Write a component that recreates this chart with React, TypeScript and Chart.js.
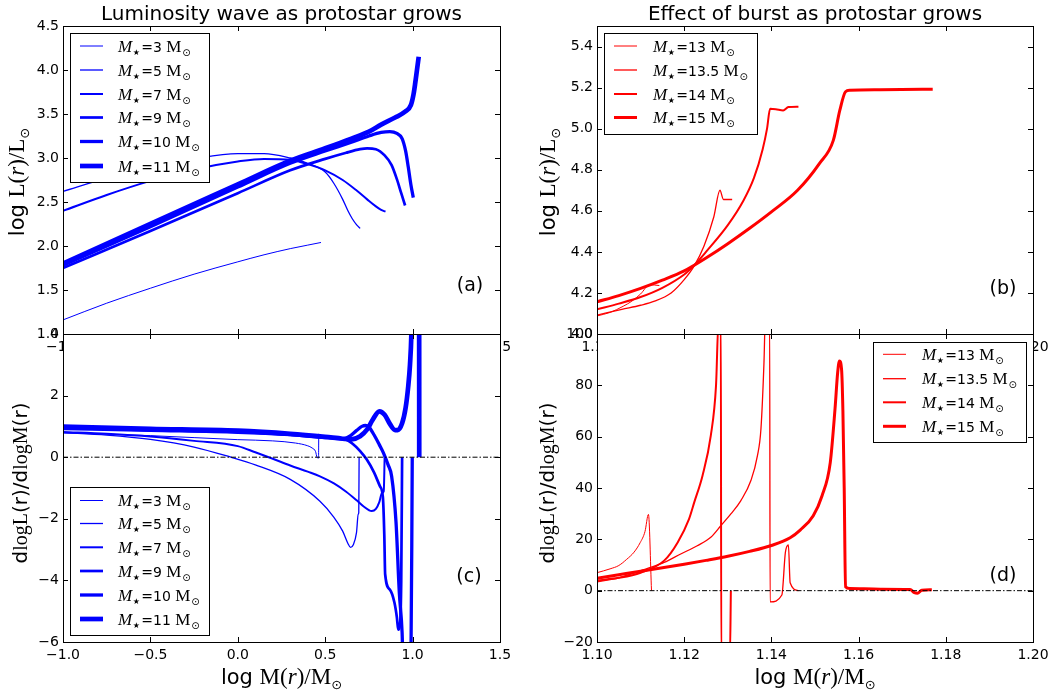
import React, { useEffect, useRef } from "react";
import { Chart, registerables } from "chart.js";
Chart.register(...registerables);

// ---------------- tick values / labels ----------------
const X_TICKS_LEFT = [-1.0, -0.5, 0.0, 0.5, 1.0, 1.5];
const X_LABELS_LEFT = ["\u22121.0", "\u22120.5", "0.0", "0.5", "1.0", "1.5"];
const Y_TICKS_A = [1.0, 1.5, 2.0, 2.5, 3.0, 3.5, 4.0, 4.5];
const Y_LABELS_A = ["1.0", "1.5", "2.0", "2.5", "3.0", "3.5", "4.0", "4.5"];
const Y_TICKS_C = [-6, -4, -2, 0, 2, 4];
const Y_LABELS_C = ["\u22126", "\u22124", "\u22122", "0", "2", "4"];
const X_TICKS_RIGHT = [1.1, 1.12, 1.14, 1.16, 1.18, 1.2];
const X_LABELS_RIGHT = ["1.10", "1.12", "1.14", "1.16", "1.18", "1.20"];
const Y_TICKS_B = [4.0, 4.2, 4.4, 4.6, 4.8, 5.0, 5.2, 5.4];
const Y_LABELS_B = ["4.0", "4.2", "4.4", "4.6", "4.8", "5.0", "5.2", "5.4"];
const Y_TICKS_D = [-20, 0, 20, 40, 60, 80, 100];
const Y_LABELS_D = ["\u221220", "0", "20", "40", "60", "80", "100"];

const LEFT_MASSES = ["3", "5", "7", "9", "10", "11"];
const RIGHT_MASSES = ["13", "13.5", "14", "15"];

// ---------------- panel (a): log L(r) vs log M(r) ----------------
const A_M3_X = [-1.0, -0.75, -0.5, -0.25, 0.0, 0.15, 0.3, 0.4, 0.476];
const A_M3_Y = [1.16, 1.35, 1.52, 1.68, 1.82, 1.9, 1.97, 2.01, 2.04];
const A_M5_X = [-1.0, -0.75, -0.5, -0.25, 0.0, 0.15, 0.3, 0.4, 0.5, 0.55, 0.6, 0.63, 0.655, 0.68, 0.7];
const A_M5_Y = [2.62, 2.77, 2.89, 2.99, 3.05, 3.05, 3.0, 2.94, 2.84, 2.71, 2.53, 2.4, 2.31, 2.24, 2.2];
const A_M7_X = [-1.0, -0.75, -0.5, -0.25, 0.0, 0.15, 0.3, 0.4, 0.5, 0.6, 0.68, 0.74, 0.79, 0.82, 0.845];
const A_M7_Y = [2.4, 2.58, 2.74, 2.87, 2.96, 2.99, 2.98, 2.93, 2.86, 2.75, 2.63, 2.53, 2.45, 2.41, 2.39];
const A_M9_X = [-1.0, -0.5, 0.0, 0.3, 0.5, 0.62, 0.7, 0.74, 0.79, 0.84, 0.88, 0.91, 0.935, 0.957];
const A_M9_Y = [1.75, 2.17, 2.6, 2.86, 2.99, 3.06, 3.1, 3.11, 3.1, 3.03, 2.92, 2.76, 2.6, 2.46];
const A_M10_X = [-1.0, -0.5, 0.0, 0.3, 0.5, 0.65, 0.75, 0.82, 0.87, 0.91, 0.94, 0.96, 0.975, 0.99, 1.004];
const A_M10_Y = [1.78, 2.22, 2.67, 2.94, 3.08, 3.18, 3.25, 3.29, 3.3, 3.28, 3.22, 3.08, 2.9, 2.7, 2.55];
const A_M11_X = [-1.0, -0.5, 0.0, 0.3, 0.5, 0.65, 0.75, 0.82, 0.9, 0.96, 0.99, 1.005, 1.015, 1.025, 1.035];
const A_M11_Y = [1.8, 2.25, 2.7, 2.97, 3.11, 3.22, 3.3, 3.38, 3.46, 3.53, 3.6, 3.72, 3.85, 4.0, 4.15];

// ---------------- panel (c): dlogL/dlogM ----------------
const C_M3_X = [-1.0, -0.5, 0.0, 0.2, 0.33, 0.4, 0.425, 0.445, 0.453, 0.462, 0.463];
const C_M3_Y = [0.79, 0.7, 0.57, 0.53, 0.46, 0.37, 0.3, 0.18, 0.0, -0.03, 0.76];
const C_M5_X = [-1.0, -0.75, -0.5, -0.25, -0.04, 0.1, 0.3, 0.47, 0.55, 0.6, 0.63, 0.645, 0.66, 0.679, 0.689, 0.692, 0.694];
const C_M5_Y = [0.8, 0.72, 0.58, 0.33, 0.0, -0.25, -0.72, -1.43, -1.95, -2.4, -2.8, -2.93, -2.85, -2.45, -1.85, -1.8, 0.0];
const C_M7_X = [-1.0, -0.75, -0.5, -0.25, 0.0, 0.1, 0.2, 0.3, 0.4, 0.47, 0.55, 0.62, 0.68, 0.72, 0.766, 0.79, 0.81, 0.825, 0.835, 0.84];
const C_M7_Y = [0.82, 0.76, 0.67, 0.53, 0.36, 0.16, -0.05, -0.27, -0.47, -0.62, -0.85, -1.12, -1.4, -1.6, -1.75, -1.68, -1.45, -1.16, -1.1, 0.0];
const C_M9_X = [-1.0, -0.5, 0.0, 0.3, 0.5, 0.62, 0.66, 0.7, 0.737, 0.78, 0.813, 0.83, 0.838, 0.843, 0.87, 0.896, 0.91, 0.918, 0.926, 0.935, 0.94];
const C_M9_Y = [0.92, 0.86, 0.8, 0.72, 0.63, 0.57, 0.42, 0.2, -0.07, -0.5, -0.94, -1.3, -2.5, -3.8, -4.3, -4.72, -5.2, -5.6, -5.5, -4.0, 0.0];
const C_M10_X = [-1.0, -0.5, 0.0, 0.3, 0.5, 0.6, 0.64, 0.68, 0.71, 0.73, 0.75, 0.78, 0.81, 0.833, 0.86, 0.88, 0.905, 0.924, 0.94, 0.947, 0.99, 0.998];
const C_M10_Y = [0.96, 0.89, 0.83, 0.74, 0.65, 0.59, 0.68, 0.87, 1.0, 1.03, 0.98, 0.72, 0.4, 0.14, -0.25, -0.62, -2.1, -4.4, -5.7, -7, -7, 0.0];
const C_M11_X = [-1.0, -0.5, 0.0, 0.3, 0.5, 0.6, 0.65, 0.7, 0.74, 0.77, 0.81, 0.84, 0.87, 0.9, 0.915, 0.94, 0.96, 0.975, 0.985, 0.993, 0.998, 1.0, 1.037, 1.038];
const C_M11_Y = [0.99, 0.92, 0.86, 0.76, 0.66, 0.6, 0.58, 0.68, 0.9, 1.2, 1.49, 1.38, 1.08, 0.88, 0.88, 1.1, 1.6, 2.3, 3.0, 4.0, 5.5, 8, 8, 0.0];

// ---------------- panel (b): burst, log L ----------------
const B_M13_X = [1.1, 1.103, 1.106, 1.108, 1.11, 1.1121, 1.1143];
const B_M13_Y = [4.088, 4.105, 4.135, 4.16, 4.195, 4.24, 4.236];
const B_M135_X = [1.1, 1.1057, 1.11, 1.1132, 1.117, 1.12, 1.1223, 1.1245, 1.1268, 1.1282, 1.129, 1.131];
const B_M135_Y = [4.092, 4.12, 4.14, 4.16, 4.2, 4.265, 4.332, 4.426, 4.571, 4.7, 4.655, 4.655];
const B_M14_X = [1.1, 1.105, 1.11, 1.115, 1.12, 1.1223, 1.125, 1.13, 1.1336, 1.136, 1.138, 1.139, 1.1397, 1.141, 1.1427, 1.1439, 1.1462];
const B_M14_Y = [4.12, 4.148, 4.18, 4.225, 4.29, 4.335, 4.4, 4.53, 4.65, 4.76, 4.9, 5.0, 5.097, 5.095, 5.089, 5.105, 5.107];
const B_M15_X = [1.1, 1.105, 1.11, 1.115, 1.12, 1.1223, 1.125, 1.13, 1.135, 1.14, 1.146, 1.151, 1.1542, 1.1557, 1.157, 1.158, 1.165, 1.177];
const B_M15_Y = [4.157, 4.187, 4.222, 4.262, 4.307, 4.335, 4.37, 4.44, 4.515, 4.595, 4.7, 4.83, 4.943, 5.09, 5.18, 5.187, 5.19, 5.192];

// ---------------- panel (d): burst, dlogL/dlogM ----------------
const D_M13_X = [1.1, 1.103, 1.105, 1.1068, 1.1085, 1.1099, 1.111, 1.1118, 1.1125];
const D_M13_Y = [7.0, 8.5, 9.8, 12.2, 15.0, 18.7, 23, 29.7, 0];
const D_M135_X = [1.1, 1.105, 1.11, 1.1154, 1.1185, 1.1211, 1.1223, 1.1242, 1.1261, 1.1273, 1.1279, 1.1284, 1.1285, 1.1305, 1.1307];
const D_M135_Y = [4.0, 5.0, 7.0, 11.7, 18.8, 27.9, 34.4, 44.8, 60.4, 80, 106, 106, -25, -25, 0];
const D_M14_X = [1.1, 1.105, 1.1079, 1.1116, 1.1154, 1.1192, 1.123, 1.1261, 1.1284, 1.1307, 1.133, 1.1353, 1.1368, 1.1376, 1.1383, 1.1386, 1.1396, 1.1397, 1.1424, 1.1432, 1.1439, 1.1443, 1.1462];
const D_M14_Y = [3.4, 5.0, 6.5, 8.7, 11.0, 14.3, 17.5, 20.8, 25.3, 29.9, 35.1, 42.9, 52.6, 63, 89, 106, 106, -4.4, -1.7, 14.8, 17.8, 3.1, 0];
const D_M15_X = [1.1, 1.105, 1.11, 1.115, 1.12, 1.125, 1.13, 1.135, 1.14, 1.1443, 1.1466, 1.1496, 1.1516, 1.1535, 1.1546, 1.1552, 1.1556, 1.1561, 1.1564, 1.1567, 1.157, 1.158, 1.165, 1.1718, 1.1728, 1.1735, 1.1745, 1.1768];
const D_M15_Y = [4.8, 6.2, 7.6, 8.9, 10.3, 11.8, 13.4, 15.3, 17.6, 20.6, 23.6, 29.2, 36.9, 49.9, 71, 85, 89.5, 86, 70, 40, 1.5, 0.8, 0.6, 0.5, -0.8, -1.0, 0.2, 0.4];

// ---------------- styles / layout ----------------
const PAGE_W = 1061;
const PAGE_H = 694;
const Y_AXIS_W = 50;
const X_AXIS_H = 30;
const TICK = 5;
const BLUE = "#0000ff";
const RED = "#ff0000";
const SANS = "'DejaVu Sans'";
const SERIF = "'Liberation Serif'";
const LEFT_WIDTHS = [1, 1.3, 2, 2.7, 3.3, 4.7];
const RIGHT_WIDTHS = [1, 1.3, 2, 3];
const D_WIDTHS = [1, 2, 1.3, 3];

type Seg = { t: string; f: string; dy?: number; pad?: number };

const massSegs = (m: string): Seg[] => [
  { t: "M", f: `italic 17px ${SERIF}`, pad: 0.5 },
  { t: "\u2605", f: `8px ${SANS}`, dy: 3, pad: 1.5 },
  { t: "=" + m, f: `14px ${SANS}` },
  { t: " M", f: `17px ${SERIF}`, pad: 1 },
  { t: "\u2299", f: `10px ${SANS}`, dy: 4 },
];
const Y_TITLE_TOP: Seg[] = [
  { t: "log ", f: `21px ${SANS}` },
  { t: "L(", f: `23px ${SERIF}` },
  { t: "r", f: `italic 23px ${SERIF}` },
  { t: ")/L", f: `23px ${SERIF}` },
  { t: "\u2299", f: `13px ${SANS}`, dy: 5 },
];
const X_TITLE: Seg[] = [
  { t: "log ", f: `21px ${SANS}` },
  { t: "M(", f: `23px ${SERIF}` },
  { t: "r", f: `italic 23px ${SERIF}` },
  { t: ")/M", f: `23px ${SERIF}` },
  { t: "\u2299", f: `13px ${SANS}`, dy: 5 },
];
const Y_TITLE_BOTTOM: Seg[] = [
  { t: "d", f: `20px ${SANS}` },
  { t: "logL", f: `20px ${SERIF}` },
  { t: "(r)/d", f: `20px ${SANS}` },
  { t: "logM", f: `20px ${SERIF}` },
  { t: "(r)", f: `20px ${SANS}` },
];

function segWidth(ctx: CanvasRenderingContext2D, segs: Seg[]) {
  let w = 0;
  for (const s of segs) {
    ctx.font = s.f;
    w += ctx.measureText(s.t).width + (s.pad || 0);
  }
  return w;
}
function drawSegs(ctx: CanvasRenderingContext2D, segs: Seg[], x: number, y: number, center: boolean) {
  let cx = center ? x - segWidth(ctx, segs) / 2 : x;
  ctx.textAlign = "left";
  ctx.textBaseline = "alphabetic";
  for (const s of segs) {
    ctx.font = s.f;
    ctx.fillText(s.t, cx, y + (s.dy || 0));
    cx += ctx.measureText(s.t).width + (s.pad || 0);
  }
}

type Series = { xs: number[]; ys: number[]; w: number; color: string };
type PanelCfg = {
  area: { l: number; t: number; r: number; b: number };
  xMin: number; xMax: number; xTicks: number[]; xLabels: string[];
  yMin: number; yMax: number; yTicks: number[]; yLabels: string[];
  series: Series[];
  zeroLine: boolean;
  legend: { box: number[]; rows: number[]; line: number[]; textX: number; masses: string[]; widths: number[]; color: string };
  tag: { text: string; x: number; y: number };
  title?: { text: string; x: number; y: number };
  yTitle: { segs: Seg[]; x: number; y: number };
  xTitle?: { segs: Seg[]; x: number; y: number };
};

const mk = (xs: number[], ys: number[], w: number, color: string): Series => ({ xs, ys, w, color });

const PANELS: PanelCfg[] = [
  {
    area: { l: 63, t: 26, r: 500, b: 334 },
    xMin: -1, xMax: 1.5, xTicks: X_TICKS_LEFT, xLabels: X_LABELS_LEFT,
    yMin: 1, yMax: 4.5, yTicks: Y_TICKS_A, yLabels: Y_LABELS_A,
    series: [
      mk(A_M3_X, A_M3_Y, LEFT_WIDTHS[0], BLUE),
      mk(A_M5_X, A_M5_Y, LEFT_WIDTHS[1], BLUE),
      mk(A_M7_X, A_M7_Y, LEFT_WIDTHS[2], BLUE),
      mk(A_M9_X, A_M9_Y, LEFT_WIDTHS[3], BLUE),
      mk(A_M10_X, A_M10_Y, LEFT_WIDTHS[4], BLUE),
      mk(A_M11_X, A_M11_Y, LEFT_WIDTHS[5], BLUE),
    ],
    zeroLine: false,
    legend: { box: [70, 33, 209, 182], rows: [46, 70, 94, 117.5, 141.5, 166], line: [80, 103], textX: 118, masses: LEFT_MASSES, widths: LEFT_WIDTHS, color: BLUE },
    tag: { text: "(a)", x: 470, y: 291 },
    title: { text: "Luminosity wave as protostar grows", x: 281.5, y: 20 },
    yTitle: { segs: Y_TITLE_TOP, x: 24, y: 182 },
  },
  {
    area: { l: 597, t: 26, r: 1033, b: 334 },
    xMin: 1.1, xMax: 1.2, xTicks: X_TICKS_RIGHT, xLabels: X_LABELS_RIGHT,
    yMin: 4.0, yMax: 5.5, yTicks: Y_TICKS_B, yLabels: Y_LABELS_B,
    series: [
      mk(B_M13_X, B_M13_Y, RIGHT_WIDTHS[0], RED),
      mk(B_M135_X, B_M135_Y, RIGHT_WIDTHS[1], RED),
      mk(B_M14_X, B_M14_Y, RIGHT_WIDTHS[2], RED),
      mk(B_M15_X, B_M15_Y, RIGHT_WIDTHS[3], RED),
    ],
    zeroLine: false,
    legend: { box: [604, 33, 757, 134], rows: [46, 70, 94, 117.5], line: [614, 637], textX: 653, masses: RIGHT_MASSES, widths: RIGHT_WIDTHS, color: RED },
    tag: { text: "(b)", x: 1003, y: 293.5 },
    title: { text: "Effect of burst as protostar grows", x: 815, y: 20 },
    yTitle: { segs: Y_TITLE_TOP, x: 555, y: 182 },
  },
  {
    area: { l: 63, t: 334, r: 500, b: 642 },
    xMin: -1, xMax: 1.5, xTicks: X_TICKS_LEFT, xLabels: X_LABELS_LEFT,
    yMin: -6, yMax: 4, yTicks: Y_TICKS_C, yLabels: Y_LABELS_C,
    series: [
      mk(C_M3_X, C_M3_Y, LEFT_WIDTHS[0], BLUE),
      mk(C_M5_X, C_M5_Y, LEFT_WIDTHS[1], BLUE),
      mk(C_M7_X, C_M7_Y, LEFT_WIDTHS[2], BLUE),
      mk(C_M9_X, C_M9_Y, LEFT_WIDTHS[3], BLUE),
      mk(C_M10_X, C_M10_Y, LEFT_WIDTHS[4], BLUE),
      mk(C_M11_X, C_M11_Y, LEFT_WIDTHS[5], BLUE),
    ],
    zeroLine: true,
    legend: { box: [70, 487, 209, 635], rows: [500.5, 523.5, 547.3, 571, 595, 619], line: [80, 103], textX: 118, masses: LEFT_MASSES, widths: LEFT_WIDTHS, color: BLUE },
    tag: { text: "(c)", x: 469, y: 581.5 },
    yTitle: { segs: Y_TITLE_BOTTOM, x: 27, y: 483 },
    xTitle: { segs: X_TITLE, x: 281.5, y: 684 },
  },
  {
    area: { l: 597, t: 334, r: 1033, b: 642 },
    xMin: 1.1, xMax: 1.2, xTicks: X_TICKS_RIGHT, xLabels: X_LABELS_RIGHT,
    yMin: -20, yMax: 100, yTicks: Y_TICKS_D, yLabels: Y_LABELS_D,
    series: [
      mk(D_M13_X, D_M13_Y, D_WIDTHS[0], RED),
      mk(D_M135_X, D_M135_Y, D_WIDTHS[1], RED),
      mk(D_M14_X, D_M14_Y, D_WIDTHS[2], RED),
      mk(D_M15_X, D_M15_Y, D_WIDTHS[3], RED),
    ],
    zeroLine: true,
    legend: { box: [873, 342, 1026, 442], rows: [354.3, 378.7, 402.3, 426.3], line: [883, 906], textX: 922, masses: RIGHT_MASSES, widths: RIGHT_WIDTHS, color: RED },
    tag: { text: "(d)", x: 1003, y: 580.5 },
    yTitle: { segs: Y_TITLE_BOTTOM, x: 553.5, y: 483 },
    xTitle: { segs: X_TITLE, x: 815, y: 684 },
  },
];

function decoPlugin(cfg: PanelCfg) {
  return {
    id: "deco",
    beforeDraw(chart: any) {
      const { ctx, chartArea: a } = chart;
      ctx.save();
      ctx.fillStyle = "#ffffff";
      ctx.fillRect(a.left, a.top, a.right - a.left, a.bottom - a.top);
      ctx.restore();
    },
    afterDraw(chart: any) {
      const ctx: CanvasRenderingContext2D = chart.ctx;
      const a = chart.chartArea;
      const xs = chart.scales.x;
      const ys = chart.scales.y;
      ctx.save();
      ctx.strokeStyle = "#000";
      ctx.lineWidth = 1;
      ctx.setLineDash([]);
      ctx.beginPath();
      for (const v of cfg.xTicks) {
        const p = Math.round(xs.getPixelForValue(v)) + 0.5;
        ctx.moveTo(p, a.bottom);
        ctx.lineTo(p, a.bottom - TICK);
        ctx.moveTo(p, a.top);
        ctx.lineTo(p, a.top + TICK);
      }
      for (const v of cfg.yTicks) {
        const p = Math.round(ys.getPixelForValue(v)) + 0.5;
        ctx.moveTo(a.left, p);
        ctx.lineTo(a.left + TICK, p);
        ctx.moveTo(a.right, p);
        ctx.lineTo(a.right - TICK, p);
      }
      ctx.stroke();
      ctx.strokeRect(a.left + 0.5, a.top + 0.5, a.right - a.left, a.bottom - a.top);

      // legend
      const L = cfg.legend;
      const [bx1, by1, bx2, by2] = L.box;
      ctx.fillStyle = "#fff";
      ctx.fillRect(bx1, by1, bx2 - bx1, by2 - by1);
      ctx.strokeStyle = "#000";
      ctx.lineWidth = 1;
      ctx.strokeRect(bx1 + 0.5, by1 + 0.5, bx2 - bx1, by2 - by1);
      L.rows.forEach((ry, i) => {
        ctx.strokeStyle = L.color;
        ctx.lineWidth = L.widths[i];
        ctx.beginPath();
        ctx.moveTo(L.line[0], ry);
        ctx.lineTo(L.line[1], ry);
        ctx.stroke();
        ctx.fillStyle = "#000";
        drawSegs(ctx, massSegs(L.masses[i]), L.textX, ry + 5.5, false);
      });

      // panel tag
      ctx.fillStyle = "#000";
      ctx.font = `19px ${SANS}`;
      ctx.textAlign = "center";
      ctx.textBaseline = "alphabetic";
      ctx.fillText(cfg.tag.text, cfg.tag.x, cfg.tag.y);

      if (cfg.title) {
        ctx.font = `20px ${SANS}`;
        ctx.textAlign = "center";
        ctx.fillText(cfg.title.text, cfg.title.x, cfg.title.y);
      }
      ctx.save();
      ctx.translate(cfg.yTitle.x, cfg.yTitle.y);
      ctx.rotate(-Math.PI / 2);
      drawSegs(ctx, cfg.yTitle.segs, 0, 0, true);
      ctx.restore();
      if (cfg.xTitle) drawSegs(ctx, cfg.xTitle.segs, cfg.xTitle.x, cfg.xTitle.y, true);
      ctx.restore();
    },
  };
}

function makeChart(canvas: HTMLCanvasElement, cfg: PanelCfg) {
  const datasets: any[] = cfg.series.map((s, i) => ({
    data: s.xs.map((x, k) => ({ x, y: s.ys[k] })),
    borderColor: s.color,
    backgroundColor: s.color,
    borderWidth: s.w,
    pointRadius: 0,
    pointHoverRadius: 0,
    cubicInterpolationMode: "monotone",
    fill: false,
    borderJoinStyle: "round",
    borderCapStyle: "butt",
    clip: 0,
    order: -i,
  }));
  if (cfg.zeroLine) {
    datasets.push({
      data: [{ x: cfg.xMin, y: 0 }, { x: cfg.xMax, y: 0 }],
      borderColor: "#000",
      borderWidth: 1,
      borderDash: [5, 2, 1.5, 2],
      pointRadius: 0,
      tension: 0,
      fill: false,
      clip: 0,
      order: -100,
    });
  }
  const a = cfg.area;
  const tickFont = { family: SANS, size: 14 };
  return new Chart(canvas, {
    type: "line",
    data: { datasets },
    options: {
      animation: false,
      responsive: false,
      events: [],
      devicePixelRatio: 1,
      layout: {
        padding: { left: a.l - Y_AXIS_W, right: PAGE_W - a.r, top: a.t, bottom: PAGE_H - a.b - X_AXIS_H },
      },
      plugins: { legend: { display: false }, tooltip: { enabled: false }, title: { display: false } },
      scales: {
        x: {
          type: "linear",
          position: "bottom",
          min: cfg.xMin,
          max: cfg.xMax,
          afterBuildTicks: (s: any) => { s.ticks = cfg.xTicks.map((v) => ({ value: v })); },
          afterFit: (s: any) => { s.height = X_AXIS_H; },
          ticks: {
            callback: (_v: any, i: number) => cfg.xLabels[i],
            font: tickFont, color: "#000", padding: 5, autoSkip: false, maxRotation: 0, minRotation: 0,
          },
          grid: { display: false, drawTicks: false },
          border: { display: false },
        },
        y: {
          type: "linear",
          position: "left",
          min: cfg.yMin,
          max: cfg.yMax,
          afterBuildTicks: (s: any) => { s.ticks = cfg.yTicks.map((v) => ({ value: v })); },
          afterFit: (s: any) => { s.width = Y_AXIS_W; },
          ticks: {
            callback: (_v: any, i: number) => cfg.yLabels[i],
            font: tickFont, color: "#000", padding: 4, autoSkip: false,
          },
          grid: { display: false, drawTicks: false },
          border: { display: false },
        },
      },
    } as any,
    plugins: [decoPlugin(cfg)],
  });
}

function Panel({ cfg }: { cfg: PanelCfg }) {
  const ref = useRef<HTMLCanvasElement>(null);
  useEffect(() => {
    const chart = makeChart(ref.current as HTMLCanvasElement, cfg);
    return () => chart.destroy();
  }, []);
  return (
    <canvas
      ref={ref}
      width={PAGE_W}
      height={PAGE_H}
      style={{ position: "absolute", left: 0, top: 0, width: PAGE_W, height: PAGE_H }}
    />
  );
}

export default function App() {
  return (
    <div style={{ position: "absolute", left: 0, top: 0, width: PAGE_W, height: PAGE_H, background: "#fff", overflow: "hidden" }}>
      {PANELS.map((p, i) => (
        <Panel key={i} cfg={p} />
      ))}
    </div>
  );
}
